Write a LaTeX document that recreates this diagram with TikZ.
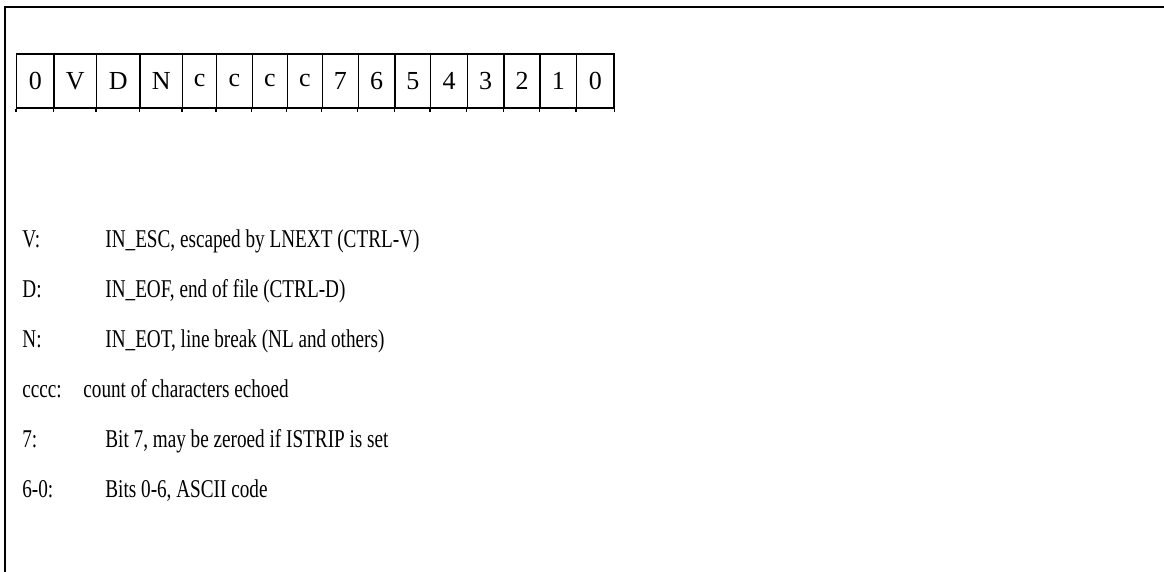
\documentclass[tikz,border=0pt]{standalone}
\usepackage{fontspec}
\setmainfont{Liberation Serif}
\newfontfamily\legendfont[FakeStretch=0.75]{Liberation Serif}
\usetikzlibrary{positioning}

\begin{document}
\begin{tikzpicture}[x=0.5pt, y=-0.5pt,
    cell/.style={draw, line width=0.7pt, minimum height=27pt, inner sep=0pt,
                 font=\fontsize{13}{15}\selectfont},
    key/.style={anchor=base west, inner sep=0pt, font=\legendfont\fontsize{12.8}{15}\selectfont},
    desc/.style={anchor=base west, inner sep=0pt, font=\legendfont\fontsize{12.8}{15}\selectfont},
    frame/.style={line width=1.2pt},
]
    \useasboundingbox (0,0) rectangle (1164,572);
    \draw[frame] (1164,7) -| (5,572);

    % register bits
    \foreach \l/\r/\t [count=\i] in {16.7/54/0, 54/96.7/V, 96.7/140/D, 140/182.7/N,
        182.7/216.7/c, 216.7/252.3/c, 252.3/287.3/c, 287.3/322.3/c,
        322.3/358.3/7, 358.3/395/6, 395/430.7/5, 430.7/467.3/4,
        467.3/504/3, 504/540/2, 540/576.7/1, 576.7/614/0}
    {
        \node[cell, minimum width={(\r-\l)*0.5pt}] (b\i) at ({(\l+\r)/2}, 81) {\t};
        \draw[line width=0.7pt] (b\i.south west) -- ++(0,3);
    }
    \draw[line width=0.7pt] (b16.south east) -- ++(0,3);

    % legend
    \node[key] (kV) at (22, 248) {V:};
    \node[desc] (dV) at (105, 248) {IN\_ESC, escaped by LNEXT (CTRL-V)};
    \node[key] (kD) at (22, 298) {D:};
    \node[desc] (dD) at (105, 298) {IN\_EOF, end of file (CTRL-D)};
    \node[key] (kN) at (22, 348) {N:};
    \node[desc] (dN) at (105, 348) {IN\_EOT, line break (NL and others)};
    \node[key] (kc) at (22, 398) {cccc:};
    \node[desc] (dc) at (83, 398) {count of characters echoed};
    \node[key] (k7) at (22, 448) {7:};
    \node[desc] (d7) at (105, 448) {Bit 7, may be zeroed if ISTRIP is set};
    \node[key] (k6) at (22, 498) {6-0:};
    \node[desc] (d6) at (105, 498) {Bits 0-6, ASCII code};
\end{tikzpicture}
\end{document}
